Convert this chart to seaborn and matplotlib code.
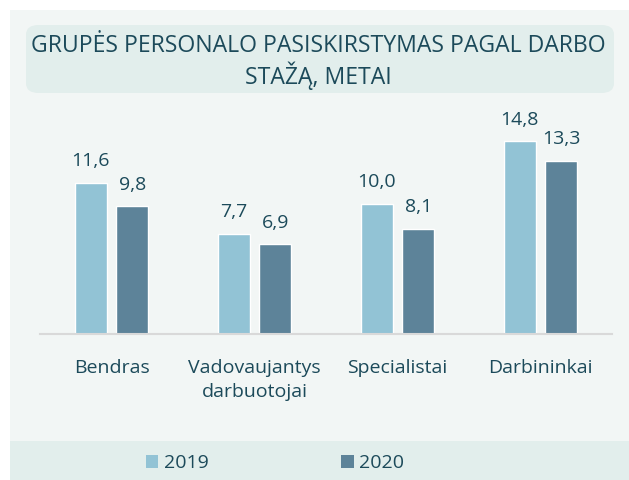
import matplotlib
matplotlib.use("Agg")
import matplotlib.pyplot as plt
from matplotlib.patches import FancyBboxPatch, Rectangle, Patch
import pandas as pd
import seaborn as sns

categories = ["Bendras", "Vadovaujantys\ndarbuotojai", "Specialistai", "Darbininkai"]
years = ["2019", "2020"]
values_2019 = [11.6, 7.7, 10.0, 14.8]
values_2020 = [9.8, 6.9, 8.1, 13.3]

colors = {"2019": "#92c3d5", "2020": "#5d8399"}
text_color = "#1c4a5a"

df = pd.DataFrame({
    "kategorija": categories * 2,
    "metai": [years[0]] * 4 + [years[1]] * 4,
    "reiksme": values_2019 + values_2020,
})

sns.set_style("white")
plt.rcParams["font.family"] = ["Open Sans", "DejaVu Sans"]

W, H = 629, 480
fig = plt.figure(figsize=(W / 100, H / 100), dpi=100)
fig.patch.set_facecolor("white")

# background panels (behind the axes)
fig.patches.append(Rectangle((10 / W, 0), 1 - 10 / W, 1 - 10 / H, transform=fig.transFigure,
                             facecolor="#f2f6f5", edgecolor="none", zorder=-3))
fig.patches.append(Rectangle((10 / W, 0), 1 - 10 / W, 39 / H, transform=fig.transFigure,
                             facecolor="#e2eeec", edgecolor="none", zorder=-2))
fig.patches.append(FancyBboxPatch((26 / W, (H - 93) / H), 588 / W, 68 / H,
                                  boxstyle="round,pad=0,rounding_size=0.02",
                                  transform=fig.transFigure, facecolor="#e2eeec",
                                  edgecolor="none", zorder=-2))

fig.text(318 / W, (H - 62) / H, "GRUPĖS PERSONALO PASISKIRSTYMAS PAGAL DARBO\nSTAŽĄ, METAI",
         ha="center", va="center", fontsize=16.6, color=text_color, linespacing=1.15)

ax = fig.add_axes([40 / W, 146 / H, 572 / W, 224 / H])
ax.set_facecolor("none")

sns.barplot(data=df, x="kategorija", y="reiksme", hue="metai", palette=colors,
            width=0.58, gap=0.24, ax=ax, legend=False, saturation=1)

for cont in ax.containers:
    ax.bar_label(cont, labels=[f"{v:.1f}".replace(".", ",") for v in cont.datavalues],
                 padding=9, fontsize=14, color=text_color)

ax.set_xlim(-0.5, 3.5)
ax.set_ylim(0, 17.2)
ax.set_xlabel("")
ax.set_ylabel("")
ax.set_yticks([])
for s in ["top", "right", "left"]:
    ax.spines[s].set_visible(False)
ax.spines["bottom"].set_color("#d9d9d9")
ax.spines["bottom"].set_linewidth(1.5)
ax.tick_params(axis="x", length=0, pad=18, labelsize=14, labelcolor=text_color)
for lbl in ax.get_xticklabels():
    lbl.set_linespacing(1.45)

handles = [Patch(facecolor=colors[y], edgecolor="none", label=y) for y in years]
fig.legend(handles=handles, loc="center", bbox_to_anchor=(275 / W, 17 / H), ncol=2,
           frameon=False, fontsize=14, handlelength=0.65, handleheight=0.65,
           handletextpad=0.3, columnspacing=6.8, labelcolor=text_color)

fig.savefig("out.png", dpi=100)
